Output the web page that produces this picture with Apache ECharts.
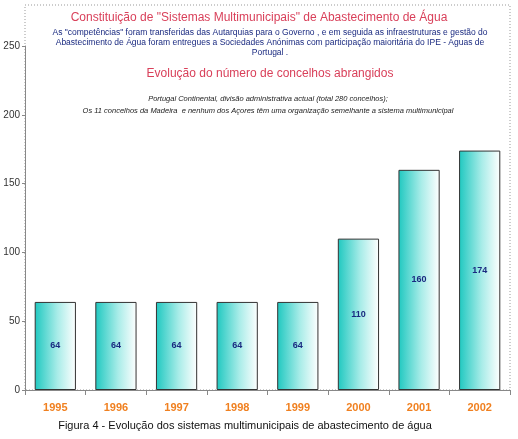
<!DOCTYPE html><html><head><meta charset="utf-8"><script src="https://cdn.jsdelivr.net/npm/echarts@6/dist/echarts.min.js"></script>
<style>html,body{margin:0;background:#fff}#c{width:518px;height:439px}</style></head><body><div id="c"></div><script>
const categories=['1995','1996','1997','1998','1999','2000','2001','2002'];
const values=[64,64,64,64,64,110,160,174];
const yTicks=[0,50,100,150,200,250];
const ch=echarts.init(document.getElementById('c'));
const grad=new echarts.graphic.LinearGradient(0,0,1,0,[{offset:0,color:'#1fc8c0'},{offset:0.55,color:'#a8ece8'},{offset:1,color:'#ffffff'}]);
ch.setOption({
 animation:false,
 grid:{left:25,right:8,top:46,bottom:49},
 graphic:[
  {type:'rect',shape:{x:25,y:5,width:485,height:385},style:{fill:'none',stroke:'#999',lineDash:[1,2],lineWidth:1},z:-1},
  {type:'text',left:'center',top:12,style:{text:'Constituição de "Sistemas Multimunicipais" de Abastecimento de Água',fill:'#d9405a',font:'12px "Liberation Sans"'}},
  {type:'text',x:270,y:28,style:{text:'As "competências" foram transferidas das Autarquias para o Governo , e em seguida as infraestruturas e gestão do\nAbastecimento de Água foram entregues a Sociedades Anónimas com participação maioritária do IPE - Águas de\nPortugal .',fill:'#1a2a80',font:'8.5px "Liberation Sans"',align:'center',lineHeight:10}},
  {type:'text',x:270,y:68,style:{text:'Evolução do número de concelhos abrangidos',fill:'#d9405a',font:'12px "Liberation Sans"',align:'center'}},
  {type:'text',x:268,y:93,style:{text:'Portugal Continental, divisão administrativa actual (total 280 concelhos);\nOs 11 concelhos da Madeira  e nenhum dos Açores têm uma organização semelhante a sistema multimunicipal',fill:'#222',font:'italic 7.5px "Liberation Sans"',align:'center',lineHeight:12}},
  {type:'text',x:245,y:420,style:{text:'Figura 4 - Evolução dos sistemas multimunicipais de abastecimento de água',fill:'#111',font:'11px "Liberation Sans"',align:'center'}}
 ],
 xAxis:{type:'category',data:categories,axisLine:{lineStyle:{color:'#888'}},axisTick:{show:true,lineStyle:{color:'#888'}},
  axisLabel:{color:'#f08020',fontWeight:'bold',fontSize:11,fontFamily:'Liberation Sans',margin:12,textShadowColor:'#ccc',textShadowOffsetX:1,textShadowOffsetY:1,textShadowBlur:0}},
 yAxis:{type:'value',min:0,max:250,interval:50,axisLine:{show:true,lineStyle:{color:'#888'}},axisTick:{show:true,length:3,inside:false,lineStyle:{color:'#888'}},
  splitLine:{show:false},axisLabel:{color:'#333',fontSize:10,fontFamily:'Liberation Sans',margin:5,formatter:v=>yTicks.includes(v)?String(v):''}},
 series:[{type:'bar',data:values,barWidth:'68%',itemStyle:{color:grad,borderColor:'#333',borderWidth:1},
  label:{show:true,position:'inside',color:'#1a2a80',fontWeight:'bold',fontSize:9,fontFamily:'Liberation Sans'}}]
});
</script></body></html>
